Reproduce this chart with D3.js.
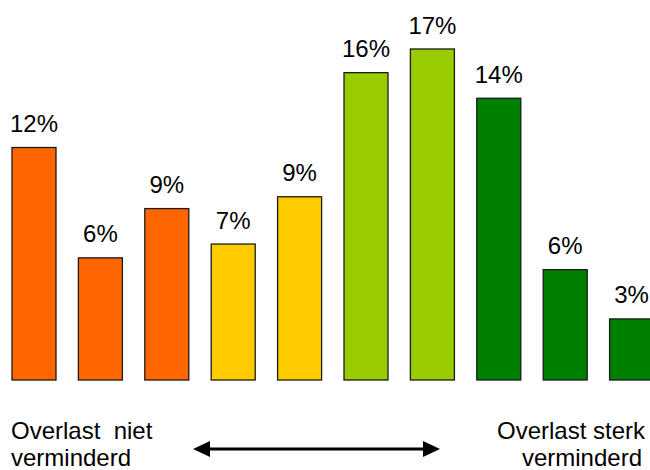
<!DOCTYPE html>
<html>
<head>
<meta charset="utf-8">
<script src="https://cdn.jsdelivr.net/npm/d3@7"></script>
<style>
  body { margin: 0; background: #fff; }
  text { font-family: "Liberation Sans", Arial, sans-serif; }
</style>
</head>
<body>
<div id="chart"></div>
<script>
// values (percent of respondents per scale step)
var categories = ['1', '2', '3', '4', '5', '6', '7', '8', '9', '10'];
var values = [11.8, 6.2, 8.7, 6.9, 9.3, 15.6, 16.8, 14.3, 5.6, 3.1];
var groups = ['niet', 'niet', 'niet', 'matig', 'matig', 'redelijk', 'redelijk', 'sterk', 'sterk', 'sterk'];
var leftLabel = ['Overlast  niet', 'verminderd'];
var rightLabel = ['Overlast sterk', 'verminderd'];

var width = 650, height = 470;

var svg = d3.select('#chart').append('svg')
    .attr('width', width)
    .attr('height', height);

var x = d3.scaleBand()
    .domain(categories)
    .range([12, 653.6])
    .paddingInner(0.3373)
    .paddingOuter(0);

var y = d3.scaleLinear()
    .domain([0, 16.8])
    .range([380, 49]);

var color = d3.scaleOrdinal()
    .domain(['niet', 'matig', 'redelijk', 'sterk'])
    .range(['#ff6600', '#ffcc00', '#99cc00', '#008000']);

var data = categories.map(function (c, i) {
  return {cat: c, value: values[i], group: groups[i]};
});

// bars
svg.selectAll('rect.bar')
    .data(data)
    .enter()
    .append('rect')
    .attr('class', 'bar')
    .attr('x', function (d) { return x(d.cat); })
    .attr('y', function (d) { return y(d.value); })
    .attr('width', x.bandwidth())
    .attr('height', function (d) { return y(0) - y(d.value); })
    .style('fill', function (d) { return color(d.group); })
    .style('stroke', '#1a1a1a')
    .style('stroke-width', 1.3);

// value labels
svg.selectAll('text.val')
    .data(data)
    .enter()
    .append('text')
    .attr('class', 'val')
    .attr('x', function (d) { return x(d.cat) + x.bandwidth() / 2; })
    .attr('y', function (d) { return y(d.value) - 15.5; })
    .attr('text-anchor', 'middle')
    .style('font-size', '24px')
    .style('fill', '#000')
    .text(function (d) { return Math.round(d.value) + '%'; });

// bottom captions
svg.selectAll('text.left')
    .data(leftLabel)
    .enter()
    .append('text')
    .attr('class', 'left')
    .attr('x', 11)
    .attr('y', function (d, i) { return 439 + i * 27; })
    .style('font-size', '24px')
    .style('white-space', 'pre')
    .text(function (d) { return d; });

svg.selectAll('text.right')
    .data(rightLabel)
    .enter()
    .append('text')
    .attr('class', 'right')
    .attr('x', function (d, i) { return i == 0 ? 645 : 642; })
    .attr('y', function (d, i) { return 439 + i * 27; })
    .attr('text-anchor', 'end')
    .style('font-size', '24px')
    .text(function (d) { return d; });

// double arrow between the captions
var ay = 449, ax0 = 193, ax1 = 440, head = 17, half = 8;
svg.append('line')
    .attr('x1', ax0 + head - 2)
    .attr('x2', ax1 - head + 2)
    .attr('y1', ay)
    .attr('y2', ay)
    .style('stroke', '#000')
    .style('stroke-width', 3);

svg.append('path')
    .attr('d', d3.line()([[ax0, ay], [ax0 + head, ay - half], [ax0 + head, ay + half]]) + 'Z')
    .style('fill', '#000');
svg.append('path')
    .attr('d', d3.line()([[ax1, ay], [ax1 - head, ay - half], [ax1 - head, ay + half]]) + 'Z')
    .style('fill', '#000');
</script>
</body>
</html>
